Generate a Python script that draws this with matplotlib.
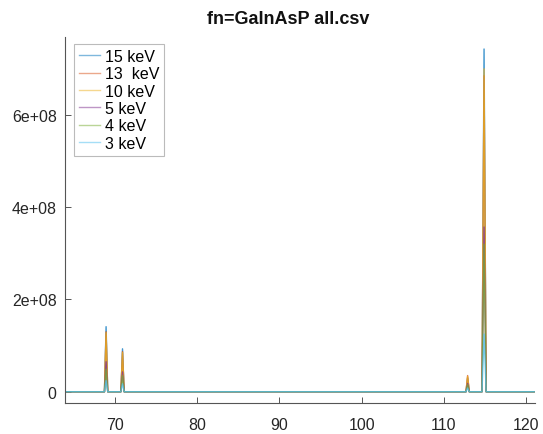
import matplotlib
matplotlib.use("Agg")
import matplotlib.pyplot as plt

# Energy axis sample points (shared by all spectra)
energy = [64.0, 68.7, 68.9, 69.1, 70.7, 70.9, 71.1,
          112.7, 112.9, 113.1, 114.65, 114.9, 115.15, 121.0]

labels = ["15 keV", "13  keV", "10 keV", "5 keV", "4 keV", "3 keV"]

counts_15 = [0, 0, 1.41e8, 0, 0, 0.93e8, 0, 0, 3.0e7, 0, 0, 7.43e8, 0, 0]
counts_13 = [0, 0, 1.30e8, 0, 0, 0.87e8, 0, 0, 3.5e7, 0, 0, 6.85e8, 0, 0]
counts_10 = [0, 0, 1.28e8, 0, 0, 0.85e8, 0, 0, 3.3e7, 0, 0, 7.00e8, 0, 0]
counts_5 = [0, 0, 0.65e8, 0, 0, 0.43e8, 0, 0, 1.8e7, 0, 0, 3.57e8, 0, 0]
counts_4 = [0, 0, 0.49e8, 0, 0, 0.35e8, 0, 0, 1.5e7, 0, 0, 3.20e8, 0, 0]
counts_3 = [0, 0, 0.24e8, 0, 0, 0.17e8, 0, 0, 0.8e7, 0, 0, 1.25e8, 0, 0]

series = [counts_15, counts_13, counts_10, counts_5, counts_4, counts_3]
colors = ["#0072BD", "#D95319", "#EDB120", "#7E2F8E", "#77AC30", "#4DBEEE"]

x_ticks = [70, 80, 90, 100, 110, 120]
y_ticks = [0, 2e8, 4e8, 6e8]
y_ticklabels = ["0", "2e+08", "4e+08", "6e+08"]

plt.rcParams["font.family"] = ["Liberation Sans", "DejaVu Sans"]

W, H = 543, 435
fig = plt.figure(figsize=(W / 100, H / 100), dpi=100)
ax = fig.add_axes([65 / W, (H - 404) / H, 470 / W, 366 / H])

for ys, c, lab in zip(series, colors, labels):
    ax.plot(energy, ys, color=c, lw=1.0, alpha=0.75, label=lab)

ax.set_xlim(63.9, 121.1)
ax.set_ylim(-2.45e7, 7.69e8)
ax.set_xticks(x_ticks)
ax.set_yticks(y_ticks)
ax.set_yticklabels(y_ticklabels)

for s in ("top", "right"):
    ax.spines[s].set_visible(False)
for s in ("left", "bottom"):
    ax.spines[s].set_color("#555555")
    ax.spines[s].set_linewidth(0.8)
ax.tick_params(direction="in", length=4, width=0.7, color="#555555",
               labelcolor="#262626", labelsize=11.5)
ax.tick_params(axis="x", pad=10)
ax.tick_params(axis="y", pad=6)

leg = ax.legend(loc="upper left", bbox_to_anchor=(74 / W, 1 - 45 / H),
                bbox_transform=fig.transFigure, fontsize=11.5,
                frameon=True, fancybox=False, handlelength=1.35,
                handletextpad=0.3, labelspacing=0.15, borderpad=0.3,
                borderaxespad=0)
leg.get_frame().set_edgecolor("#aaaaaa")
leg.get_frame().set_linewidth(0.8)
for h in leg.get_lines():
    h.set_alpha(0.5)

fig.text(288.5 / W, 1 - 19.5 / H, "fn=GaInAsP all.csv", ha="center",
         va="center", fontsize=13, fontweight="bold", color="#111111")

fig.savefig("out.png", dpi=100)
